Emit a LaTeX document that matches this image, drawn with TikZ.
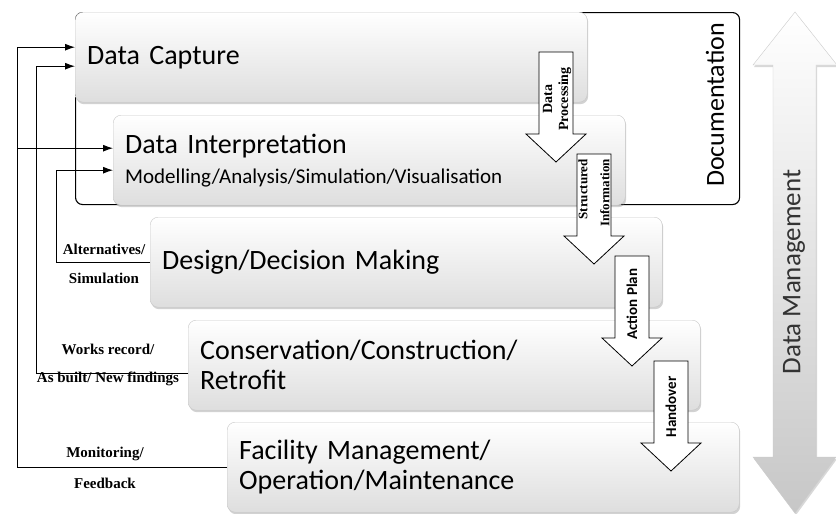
\documentclass[tikz,border=0pt]{standalone}
\usepackage{fontspec}
\setmainfont{Carlito}
\newfontfamily\timesfont{Liberation Serif}
\usetikzlibrary{arrows.meta,shadows}

\begin{document}
\begin{tikzpicture}[
  x=1pt, y=-1pt,
  stage/.style={
    rectangle,
    rounded corners=8pt,
    draw=black!22,
    top color=white,
    bottom color=black!13,
    drop shadow={opacity=0.35, shadow xshift=1pt, shadow yshift=-2pt},
    minimum height=90pt,
    text width=488pt,
    inner xsep=12pt,
    align=left,
    anchor=north west,
    font=\fontsize{28}{30}\selectfont,
  },
  feedback/.style={
    draw,
    line width=1pt,
    -{Latex[length=10pt,width=7pt]},
  },
  fblabel/.style={
    font=\timesfont\bfseries\fontsize{15}{15}\selectfont,
  },
  downarrow/.pic={
    \draw[fill=white, line width=0.8pt]
      (-17,0) -- (17,0) -- (17,82) -- (30,82) -- (0,110)
      -- (-30,82) -- (-17,82) -- cycle;
  },
  arrowlabel/.style={
    rotate=90,
    align=center,
    inner sep=0pt,
  },
]

\useasboundingbox[fill=white] (0,0) rectangle (836,514);

% Documentation frame
\node[draw, rounded corners=7pt, line width=1.1pt, fill=white,
  minimum width=664pt, minimum height=192pt, anchor=north west]
  (docbox) at (75,12) {};
\node[rotate=90, font=\fontsize{26}{26}\selectfont] (doctext) at (715,105) {Documentation};

% Stages
\node[stage] (capture) at (75,12) {Data Capture};
\node[stage] (interp) at (113,115) {Data Interpretation\\
  {\fontsize{21}{24}\selectfont Modelling/Analysis/Simulation/Visualisation}};
\node[stage] (design) at (150,217) {Design/Decision Making};
\node[stage] (construct) at (188,320) {Conservation/Construction/\\Retrofit};
\node[stage] (facility) at (227,422) {Facility Management/\\Operation/Maintenance};

% Hand-over arrows between stages
\pic (procarrow) at (556,52) {downarrow};
\node[arrowlabel, font=\timesfont\bfseries\fontsize{14}{16}\selectfont] (proc) at (557,99) {Data\\Processing};
\pic (infoarrow) at (594,154) {downarrow};
\node[arrowlabel, align=right, font=\timesfont\bfseries\fontsize{13}{22}\selectfont] (info) at (594,193) {Structured\\Information};
\pic (planarrow) at (632,256) {downarrow};
\node[arrowlabel, font=\bfseries\fontsize{15}{15}\selectfont] (plan) at (632,304) {Action Plan};
\pic (handarrow) at (671,361) {downarrow};
\node[arrowlabel, font=\bfseries\fontsize{15}{15}\selectfont] (hand) at (671,407) {Handover};

% Feedback loops
\draw[feedback] (facility.west) -- ++(-210,0) coordinate (loopa) |- ([yshift=10pt]capture.west);
\draw[feedback] ([yshift=12pt]interp.west -| loopa) -- ([yshift=12pt]interp.west);
\draw[feedback] ([yshift=-8pt]construct.west) -- ++(-152,0) |- ([yshift=-9pt]capture.west);
\draw[feedback] (design.west) -- ++(-94,0) |- ([yshift=-10pt]interp.west);

\node[fblabel] (alt) at (104,249) {Alternatives/};
\node[fblabel] (sim) at (104,278) {Simulation};
\node[fblabel] (works) at (108,349) {Works record/};
\node[fblabel] (asbuilt) at (108,379) {As built/ New findings};
\node[fblabel] (monitor) at (105,454) {Monitoring/};
\node[fblabel] (fb) at (105,483) {Feedback};

% Data management double arrow
\path[draw=black!20, top color=white, bottom color=black!22,
  drop shadow={opacity=0.3, shadow xshift=1pt, shadow yshift=-2pt}]
  (795,12) -- (837,65) -- (816,65) -- (816,457) -- (836,457) -- (795,513)
  -- (753,457) -- (773,457) -- (773,65) -- (753,65) -- cycle;
\node[rotate=90, text=black!80, font=\fontsize{27}{27}\selectfont] (dm) at (794,272) {Data Management};

\end{tikzpicture}
\end{document}
